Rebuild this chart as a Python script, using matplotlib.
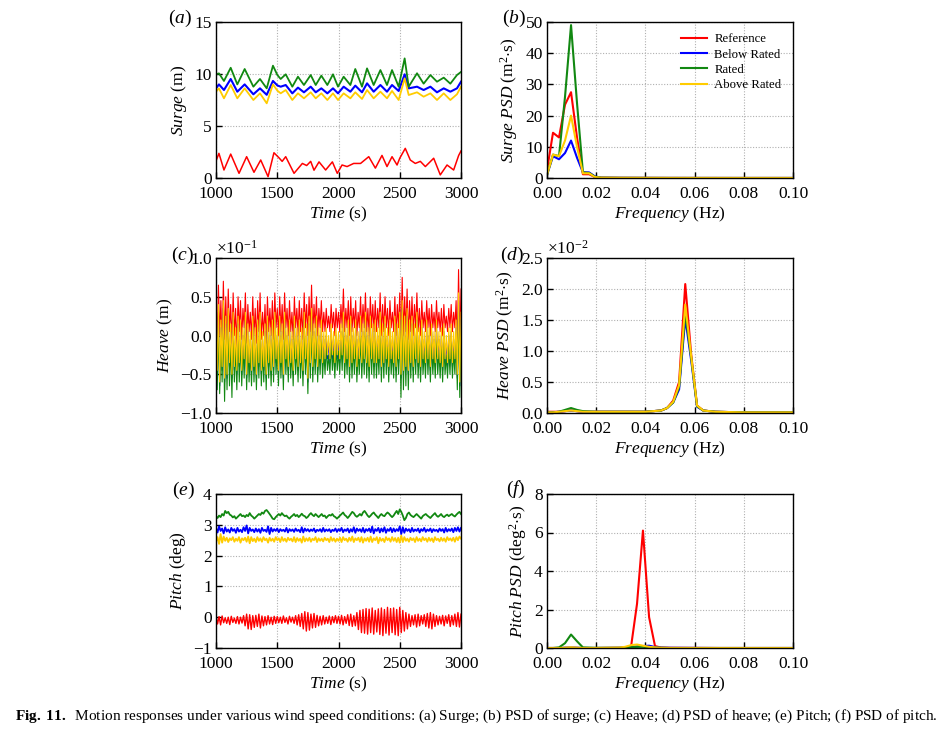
import numpy as np
import matplotlib
matplotlib.use("Agg")
import matplotlib.pyplot as plt
from matplotlib.ticker import FuncFormatter, FixedLocator

plt.rcParams['font.family'] = ['Liberation Serif', 'DejaVu Serif']
plt.rcParams['mathtext.fontset'] = 'custom'
plt.rcParams['mathtext.rm'] = 'Liberation Serif'
plt.rcParams['mathtext.it'] = 'Liberation Serif:italic'
plt.rcParams['mathtext.bf'] = 'Liberation Serif:bold'

series_names = ["Reference", "Below Rated", "Rated", "Above Rated"]
series_colors = ["#ff0000", "#0000ff", "#118811", "#ffcc00"]

# ---------------- (a) Surge time series ----------------
surge_t_ref = [1000, 1024, 1065, 1120, 1188, 1250, 1310, 1365, 1425, 1473, 1515, 1540, 1569,
               1637, 1705, 1740, 1773, 1800, 1841, 1895, 1950, 1990, 2029, 2070, 2124, 2180,
               2247, 2301, 2355, 2396, 2437, 2478, 2500, 2545, 2586, 2627, 2668, 2709, 2777,
               2831, 2886, 2940, 2981, 3000]
surge_ref = [1.63, 2.37, 0.77, 2.3, 0.45, 2.05, 0.55, 1.73, 0.13, 2.43, 1.93, 1.6, 2.05,
             0.45, 1.4, 1.2, 1.6, 0.75, 1.55, 0.77, 1.55, 0.45, 1.25, 1.1, 1.4, 1.4,
             2.05, 0.95, 2.17, 1.1, 2.05, 1.25, 1.9, 2.85, 1.73, 1.4, 1.6, 1.1, 1.9,
             0.3, 1.25, 0.77, 2.17, 2.6]

surge_t = [1000, 1024, 1065, 1120, 1174, 1234, 1305, 1359, 1414, 1465, 1501, 1528, 1569,
           1623, 1669, 1718, 1773, 1814, 1860, 1909, 1955, 1996, 2042, 2097, 2137, 2192,
           2233, 2287, 2342, 2396, 2437, 2491, 2540, 2573, 2641, 2695, 2750, 2804, 2859,
           2913, 2967, 3000]
surge_below = [8.62, 9.0, 8.46, 9.52, 8.3, 9.0, 8.05, 8.62, 8.0, 9.33, 8.9, 8.78, 8.94,
               8.14, 8.69, 8.24, 8.78, 8.24, 8.62, 8.14, 8.62, 8.14, 8.78, 8.3, 8.88, 8.24,
               9.1, 8.3, 8.94, 8.3, 8.94, 8.37, 9.97, 8.62, 8.78, 8.46, 8.78, 8.24, 8.62,
               8.3, 8.62, 9.26]
surge_rated = [9.97, 10.06, 9.33, 10.6, 9.0, 10.48, 8.78, 9.52, 8.62, 10.8, 9.9, 9.52, 9.97,
               8.78, 9.74, 8.94, 9.9, 8.94, 9.84, 8.94, 9.97, 8.78, 9.74, 8.94, 10.48, 8.78,
               10.54, 8.94, 10.38, 8.94, 10.38, 8.78, 11.5, 8.78, 10.07, 9.07, 9.9, 9.26, 9.65,
               9.07, 9.9, 10.2]
surge_above = [8.3, 8.62, 7.66, 8.94, 7.66, 8.62, 7.5, 8.14, 7.18, 9.0, 8.4, 8.14, 8.46,
               7.5, 8.14, 7.66, 8.24, 7.66, 8.14, 7.5, 8.14, 7.5, 8.14, 7.66, 8.24, 7.6,
               8.46, 7.66, 8.3, 7.66, 8.37, 7.5, 9.58, 7.98, 8.24, 7.82, 8.14, 7.5, 8.14,
               7.5, 8.05, 8.78]

# ---------------- (b) Surge PSD ----------------
surge_f = [0.0, 0.00244, 0.00488, 0.00732, 0.00977, 0.0122, 0.0146, 0.0171, 0.0195, 0.022,
           0.03, 0.05, 0.075, 0.1]
surge_psd_ref = [2.5, 14.5, 13.0, 23.5, 27.5, 13.0, 1.2, 1.2, 0.3, 0.1, 0.05, 0.02, 0.01, 0.01]
surge_psd_below = [1.0, 7.0, 6.0, 8.0, 12.0, 6.5, 1.8, 1.8, 0.5, 0.1, 0.05, 0.02, 0.01, 0.01]
surge_psd_rated = [1.0, 7.5, 7.0, 26.0, 49.0, 24.0, 1.8, 1.6, 0.4, 0.1, 0.05, 0.02, 0.01, 0.01]
surge_psd_above = [1.0, 7.5, 7.0, 12.0, 20.0, 10.0, 1.5, 1.5, 0.3, 0.1, 0.05, 0.02, 0.01, 0.01]

# ---------------- (c) Heave time series (x 10^-1 m), every 10 s from 1000 s ----------------
heave_ref = [
    0.55, -0.1, 0.65, 0.0, 0.45, -0.2, 0.7, -0.05, 0.5, -0.15,
    0.6, 0.05, 0.4, -0.1, 0.55, 0.0, 0.35, -0.15, 0.5, 0.05,
    0.45, -0.05, 0.35, 0.1, 0.55, -0.1, 0.4, 0.05, 0.3, -0.05,
    0.5, 0.0, 0.35, -0.1, 0.45, 0.05, 0.55, -0.05, 0.3, 0.0,
    0.4, -0.1, 0.5, 0.05, 0.35, 0.0, 0.45, -0.05, 0.55, 0.1,
    0.35, 0.0, 0.5, 0.05, 0.4, -0.05, 0.55, 0.1, 0.35, 0.0,
    0.45, 0.05, 0.3, -0.05, 0.5, 0.1, 0.35, 0.0, 0.45, 0.05,
    0.35, -0.05, 0.55, 0.1, 0.4, 0.0, 0.5, 0.05, 0.65, 0.0,
    0.4, 0.1, 0.5, 0.0, 0.35, 0.1, 0.45, 0.05, 0.3, 0.05,
    0.35, 0.1, 0.25, 0.05, 0.4, 0.1, 0.3, 0.0, 0.35, 0.1,
    0.3, 0.05, 0.4, 0.1, 0.6, 0.05, 0.35, 0.1, 0.45, 0.0,
    0.5, 0.05, 0.35, 0.1, 0.45, 0.0, 0.3, 0.1, 0.5, 0.05,
    0.4, 0.1, 0.55, 0.05, 0.35, 0.0, 0.5, 0.1, 0.4, 0.05,
    0.45, 0.05, 0.35, 0.1, 0.55, 0.0, 0.4, 0.05, 0.5, 0.1,
    0.35, 0.0, 0.45, 0.1, 0.3, 0.05, 0.5, 0.0, 0.4, 0.1,
    0.55, -0.05, 0.75, 0.0, 0.5, 0.05, 0.6, -0.05, 0.45, 0.05,
    0.5, 0.0, 0.4, 0.1, 0.55, 0.05, 0.35, 0.0, 0.45, 0.1,
    0.3, 0.05, 0.45, 0.1, 0.35, 0.0, 0.4, 0.1, 0.3, 0.05,
    0.45, 0.1, 0.3, 0.05, 0.35, 0.0, 0.4, 0.1, 0.25, 0.05,
    0.35, 0.1, 0.4, 0.05, 0.3, 0.1, 0.45, -0.2, 0.85, -0.1,
    0.6]
heave_below = [
    0.2, -0.5, 0.3, -0.65, 0.1, -0.45, 0.35, -0.6, 0.15, -0.55,
    0.25, -0.4, 0.05, -0.55, 0.2, -0.45, 0.0, -0.5, 0.15, -0.4,
    0.1, -0.5, 0.0, -0.35, 0.2, -0.55, 0.05, -0.4, -0.05, -0.5,
    0.15, -0.45, 0.0, -0.55, 0.1, -0.4, 0.2, -0.5, -0.05, -0.45,
    0.05, -0.55, 0.15, -0.4, 0.0, -0.5, 0.1, -0.45, 0.2, -0.35,
    0.0, -0.5, 0.15, -0.4, 0.05, -0.55, 0.2, -0.35, 0.0, -0.45,
    0.1, -0.4, -0.05, -0.5, 0.15, -0.35, 0.0, -0.45, 0.1, -0.4,
    0.0, -0.5, 0.2, -0.35, 0.05, -0.6, 0.15, -0.4, 0.25, -0.45,
    0.05, -0.35, 0.15, -0.45, 0.0, -0.35, 0.1, -0.4, -0.05, -0.35,
    0.0, -0.3, -0.1, -0.35, 0.05, -0.3, -0.05, -0.4, 0.0, -0.3,
    -0.05, -0.35, 0.05, -0.3, 0.2, -0.4, 0.0, -0.35, 0.1, -0.45,
    0.15, -0.4, 0.0, -0.35, 0.1, -0.45, -0.05, -0.35, 0.15, -0.4,
    0.05, -0.35, 0.2, -0.4, 0.0, -0.45, 0.15, -0.35, 0.05, -0.4,
    0.1, -0.4, 0.0, -0.35, 0.2, -0.45, 0.05, -0.4, 0.15, -0.35,
    0.0, -0.45, 0.1, -0.35, -0.05, -0.4, 0.15, -0.45, 0.05, -0.35,
    0.2, -0.55, 0.35, -0.5, 0.15, -0.45, 0.25, -0.5, 0.1, -0.4,
    0.15, -0.45, 0.05, -0.35, 0.2, -0.4, 0.0, -0.45, 0.1, -0.35,
    -0.05, -0.4, 0.1, -0.35, 0.0, -0.45, 0.05, -0.35, -0.05, -0.4,
    0.1, -0.35, -0.05, -0.4, 0.0, -0.45, 0.05, -0.35, -0.1, -0.4,
    0.0, -0.35, 0.05, -0.4, -0.05, -0.35, 0.1, -0.55, 0.45, -0.65,
    0.2]
heave_rated = [
    0.05, -0.7, 0.1, -0.75, -0.05, -0.6, 0.15, -0.85, 0.0, -0.7,
    0.1, -0.65, -0.1, -0.8, 0.05, -0.6, -0.15, -0.7, 0.0, -0.6,
    -0.05, -0.65, -0.15, -0.55, 0.05, -0.7, -0.1, -0.6, -0.2, -0.65,
    0.0, -0.6, -0.15, -0.7, -0.05, -0.55, 0.05, -0.65, -0.2, -0.6,
    -0.1, -0.7, 0.0, -0.55, -0.15, -0.65, -0.05, -0.6, 0.05, -0.5,
    -0.15, -0.65, 0.0, -0.55, -0.1, -0.7, 0.05, -0.5, -0.15, -0.6,
    -0.05, -0.55, -0.2, -0.65, 0.0, -0.5, -0.15, -0.6, -0.05, -0.55,
    -0.15, -0.65, 0.05, -0.5, -0.1, -0.75, 0.0, -0.55, 0.1, -0.6,
    -0.1, -0.5, 0.0, -0.6, -0.15, -0.5, -0.05, -0.55, -0.2, -0.5,
    -0.15, -0.45, -0.25, -0.5, -0.1, -0.45, -0.2, -0.55, -0.15, -0.45,
    -0.2, -0.5, -0.1, -0.45, 0.05, -0.55, -0.15, -0.5, -0.05, -0.6,
    0.0, -0.55, -0.15, -0.5, -0.05, -0.6, -0.2, -0.5, 0.0, -0.55,
    -0.1, -0.5, 0.05, -0.55, -0.15, -0.6, 0.0, -0.5, -0.1, -0.55,
    -0.05, -0.55, -0.15, -0.5, 0.05, -0.6, -0.1, -0.55, 0.0, -0.5,
    -0.15, -0.6, -0.05, -0.5, -0.2, -0.55, 0.0, -0.6, -0.1, -0.5,
    0.05, -0.8, 0.2, -0.7, 0.0, -0.65, 0.1, -0.7, -0.05, -0.55,
    0.0, -0.6, -0.1, -0.5, 0.05, -0.55, -0.15, -0.6, -0.05, -0.5,
    -0.2, -0.55, -0.05, -0.5, -0.15, -0.6, -0.1, -0.5, -0.2, -0.55,
    -0.05, -0.5, -0.2, -0.55, -0.15, -0.6, -0.1, -0.5, -0.25, -0.55,
    -0.15, -0.5, -0.1, -0.55, -0.2, -0.5, -0.05, -0.7, 0.3, -0.8,
    0.0]
heave_above = [
    0.3, -0.45, 0.4, -0.6, 0.2, -0.4, 0.45, -0.55, 0.25, -0.5,
    0.35, -0.35, 0.15, -0.5, 0.3, -0.4, 0.1, -0.45, 0.25, -0.35,
    0.2, -0.45, 0.1, -0.3, 0.3, -0.5, 0.15, -0.35, 0.05, -0.45,
    0.25, -0.4, 0.1, -0.5, 0.2, -0.35, 0.3, -0.45, 0.05, -0.4,
    0.15, -0.5, 0.25, -0.35, 0.1, -0.45, 0.2, -0.4, 0.3, -0.3,
    0.1, -0.45, 0.25, -0.35, 0.15, -0.5, 0.3, -0.3, 0.1, -0.4,
    0.2, -0.35, 0.05, -0.45, 0.25, -0.3, 0.1, -0.4, 0.2, -0.35,
    0.1, -0.45, 0.3, -0.3, 0.15, -0.55, 0.25, -0.35, 0.35, -0.4,
    0.15, -0.3, 0.25, -0.4, 0.1, -0.3, 0.2, -0.35, 0.05, -0.3,
    0.1, -0.25, 0.0, -0.3, 0.15, -0.25, 0.05, -0.35, 0.1, -0.25,
    0.05, -0.3, 0.15, -0.25, 0.3, -0.35, 0.1, -0.3, 0.2, -0.4,
    0.25, -0.35, 0.1, -0.3, 0.2, -0.4, 0.05, -0.3, 0.25, -0.35,
    0.15, -0.3, 0.3, -0.35, 0.1, -0.4, 0.25, -0.3, 0.15, -0.35,
    0.2, -0.35, 0.1, -0.3, 0.3, -0.4, 0.15, -0.35, 0.25, -0.3,
    0.1, -0.4, 0.2, -0.3, 0.05, -0.35, 0.25, -0.4, 0.15, -0.3,
    0.3, -0.5, 0.45, -0.45, 0.25, -0.4, 0.35, -0.45, 0.2, -0.35,
    0.25, -0.4, 0.15, -0.3, 0.3, -0.35, 0.1, -0.4, 0.2, -0.3,
    0.05, -0.35, 0.2, -0.3, 0.1, -0.4, 0.15, -0.3, 0.05, -0.35,
    0.2, -0.3, 0.05, -0.35, 0.1, -0.4, 0.15, -0.3, 0.0, -0.35,
    0.1, -0.3, 0.15, -0.35, 0.05, -0.3, 0.2, -0.5, 0.55, -0.6,
    0.3]

# ---------------- (d) Heave PSD (x 10^-2) ----------------
heave_f = [0.0, 0.00244, 0.00488, 0.00732, 0.00977, 0.0122, 0.0146, 0.0195, 0.03, 0.04,
           0.0464, 0.0488, 0.0513, 0.0537, 0.0562, 0.0586, 0.061, 0.0635, 0.0684, 0.08, 0.1]
heave_psd_ref = [0.02, 0.02, 0.02, 0.03, 0.04, 0.03, 0.02, 0.02, 0.02, 0.02, 0.04, 0.08,
                 0.2, 0.5, 2.08, 0.95, 0.12, 0.04, 0.02, 0.01, 0.01]
heave_psd_below = [0.01, 0.01, 0.02, 0.03, 0.04, 0.03, 0.02, 0.02, 0.02, 0.02, 0.04, 0.08,
                   0.17, 0.38, 1.53, 0.85, 0.1, 0.04, 0.02, 0.01, 0.01]
heave_psd_rated = [0.01, 0.01, 0.02, 0.05, 0.08, 0.05, 0.03, 0.02, 0.02, 0.02, 0.04, 0.08,
                   0.17, 0.42, 1.62, 0.9, 0.11, 0.04, 0.02, 0.01, 0.01]
heave_psd_above = [0.01, 0.01, 0.02, 0.03, 0.04, 0.03, 0.02, 0.02, 0.02, 0.02, 0.04, 0.08,
                   0.18, 0.45, 1.75, 0.92, 0.12, 0.04, 0.02, 0.01, 0.01]

# ---------------- (e) Pitch time series, every 12.5 s from 1000 s ----------------
pitch_ref = [
    0.05, -0.22, 0.02, -0.25, 0.04, -0.18, -0.02, -0.2, 0.0, -0.24, 0.03, -0.17, -0.03, -0.2, 0.02, -0.22, 0.0, -0.19, 0.05, -0.28,
    0.1, -0.38, 0.08, -0.4, 0.05, -0.33, 0.06, -0.3, 0.1, -0.35, 0.04, -0.28, 0.02, -0.25, 0.05, -0.22, 0.0, -0.24, 0.03, -0.2,
    0.02, -0.18, 0.0, -0.2, 0.04, -0.17, -0.02, -0.22, 0.03, -0.16, 0.0, -0.2, 0.05, -0.25, 0.08, -0.3, 0.12, -0.38, 0.18, -0.45,
    0.15, -0.42, 0.1, -0.35, 0.12, -0.33, 0.06, -0.28, 0.03, -0.25, 0.05, -0.22, 0.0, -0.2, 0.04, -0.24, 0.02, -0.18, 0.05, -0.2,
    0.03, -0.22, 0.06, -0.25, 0.02, -0.2, 0.08, -0.27, 0.1, -0.3, 0.05, -0.28, 0.15, -0.4, 0.22, -0.5, 0.25, -0.52, 0.28, -0.55,
    0.26, -0.5, 0.3, -0.55, 0.22, -0.48, 0.27, -0.56, 0.3, -0.6, 0.25, -0.52, 0.32, -0.58, 0.28, -0.5, 0.3, -0.57, 0.25, -0.6,
    0.32, -0.5, 0.22, -0.45, 0.15, -0.38, 0.1, -0.3, 0.05, -0.25, 0.08, -0.32, 0.1, -0.28, 0.05, -0.22, 0.08, -0.3, 0.12, -0.35,
    0.15, -0.38, 0.1, -0.3, 0.05, -0.25, 0.03, -0.22, 0.06, -0.28, 0.04, -0.2, 0.08, -0.3, 0.05, -0.25, 0.1, -0.3, 0.15, -0.32, 0.1]
pitch_below = [
    2.9, 2.75, 2.95, 2.8, 2.88, 2.72, 2.92, 2.78, 2.85, 2.75, 2.9, 2.8, 2.86, 2.74, 2.9, 2.78, 2.84, 2.76, 2.92, 2.8,
    2.98, 2.72, 2.9, 2.8, 2.85, 2.76, 2.88, 2.78, 2.86, 2.74, 2.9, 2.8, 2.84, 2.77, 2.95, 2.7, 2.9, 2.78, 2.86, 2.8,
    2.88, 2.76, 2.86, 2.8, 2.84, 2.78, 2.9, 2.75, 2.86, 2.8, 2.85, 2.77, 2.88, 2.8, 2.84, 2.76, 2.92, 2.75, 2.88, 2.8,
    2.86, 2.78, 2.85, 2.8, 2.88, 2.76, 2.84, 2.8, 2.86, 2.77, 2.9, 2.78, 2.85, 2.8, 2.86, 2.76, 2.84, 2.8, 2.88, 2.77,
    2.86, 2.8, 2.9, 2.76, 2.85, 2.8, 2.88, 2.75, 2.86, 2.78, 2.92, 2.74, 2.88, 2.8, 2.86, 2.77, 2.9, 2.75, 2.86, 2.8,
    2.88, 2.76, 2.94, 2.72, 2.86, 2.8, 2.9, 2.75, 2.88, 2.78, 2.92, 2.74, 2.86, 2.8, 2.9, 2.76, 2.88, 2.78, 2.86, 2.8,
    2.95, 2.7, 2.92, 2.74, 2.88, 2.8, 2.86, 2.76, 2.9, 2.78, 2.85, 2.8, 2.88, 2.75, 2.86, 2.8, 2.9, 2.77, 2.85, 2.8,
    2.88, 2.76, 2.86, 2.8, 2.84, 2.77, 2.88, 2.8, 2.86, 2.75, 2.9, 2.78, 2.86, 2.8, 2.88, 2.76, 2.9, 2.8, 2.92, 2.78, 2.9]
pitch_rated = [
    3.28, 3.22, 3.3, 3.25, 3.35, 3.3, 3.45, 3.38, 3.42, 3.33, 3.3, 3.24, 3.28, 3.2, 3.25, 3.3, 3.35, 3.28, 3.3, 3.25,
    3.32, 3.28, 3.38, 3.3, 3.26, 3.2, 3.25, 3.3, 3.35, 3.32, 3.4, 3.36, 3.45, 3.48, 3.42, 3.35, 3.28, 3.2, 3.18, 3.25,
    3.3, 3.35, 3.3, 3.38, 3.32, 3.28, 3.3, 3.24, 3.2, 3.26, 3.3, 3.35, 3.28, 3.32, 3.25, 3.3, 3.36, 3.3, 3.28, 3.22,
    3.26, 3.33, 3.38, 3.32, 3.28, 3.35, 3.3, 3.25, 3.3, 3.35, 3.28, 3.3, 3.22, 3.28, 3.32, 3.3, 3.35, 3.28, 3.25, 3.2,
    3.25, 3.3, 3.35, 3.4, 3.32, 3.28, 3.22, 3.28, 3.35, 3.42, 3.38, 3.3, 3.26, 3.3, 3.35, 3.3, 3.4, 3.45, 3.38, 3.3,
    3.25, 3.3, 3.36, 3.4, 3.33, 3.28, 3.22, 3.3, 3.35, 3.3, 3.28, 3.35, 3.4, 3.36, 3.3, 3.25, 3.3, 3.38, 3.45, 3.35,
    3.5, 3.42, 3.3, 3.15, 3.22, 3.35, 3.4, 3.32, 3.28, 3.25, 3.3, 3.35, 3.3, 3.25, 3.2, 3.28, 3.32, 3.35, 3.3, 3.26,
    3.22, 3.28, 3.33, 3.38, 3.3, 3.26, 3.3, 3.35, 3.28, 3.25, 3.3, 3.33, 3.28, 3.32, 3.35, 3.3, 3.27, 3.33, 3.38, 3.42, 3.35]
pitch_above = [
    2.45, 2.6, 2.38, 2.7, 2.42, 2.62, 2.48, 2.58, 2.44, 2.56, 2.5, 2.6, 2.45, 2.55, 2.48, 2.6, 2.42, 2.56, 2.5, 2.58,
    2.45, 2.62, 2.4, 2.6, 2.47, 2.55, 2.44, 2.6, 2.48, 2.56, 2.45, 2.6, 2.5, 2.55, 2.42, 2.58, 2.48, 2.55, 2.45, 2.6,
    2.5, 2.56, 2.44, 2.6, 2.48, 2.55, 2.45, 2.58, 2.5, 2.55, 2.46, 2.6, 2.44, 2.57, 2.48, 2.55, 2.42, 2.62, 2.46, 2.56,
    2.48, 2.58, 2.45, 2.55, 2.5, 2.6, 2.44, 2.56, 2.48, 2.55, 2.46, 2.58, 2.5, 2.55, 2.44, 2.6, 2.48, 2.56, 2.45, 2.55,
    2.48, 2.58, 2.44, 2.6, 2.5, 2.55, 2.45, 2.58, 2.48, 2.62, 2.44, 2.56, 2.5, 2.58, 2.45, 2.6, 2.42, 2.56, 2.48, 2.58,
    2.45, 2.62, 2.44, 2.56, 2.5, 2.6, 2.4, 2.58, 2.48, 2.55, 2.44, 2.6, 2.5, 2.56, 2.45, 2.6, 2.48, 2.57, 2.44, 2.58,
    2.42, 2.65, 2.44, 2.6, 2.48, 2.55, 2.45, 2.58, 2.5, 2.56, 2.44, 2.6, 2.48, 2.55, 2.46, 2.6, 2.5, 2.56, 2.45, 2.58,
    2.48, 2.56, 2.44, 2.6, 2.5, 2.55, 2.46, 2.58, 2.48, 2.56, 2.45, 2.6, 2.5, 2.56, 2.48, 2.58, 2.45, 2.6, 2.5, 2.62, 2.55]

# ---------------- (f) Pitch PSD ----------------
pitch_f = [0.0, 0.00244, 0.00488, 0.00732, 0.00977, 0.0122, 0.0146, 0.0195, 0.0293, 0.0317,
           0.0342, 0.0366, 0.039, 0.0415, 0.0439, 0.0464, 0.05, 0.07, 0.1]
pitch_psd_ref = [0.0, 0.0, 0.0, 0.0, 0.01, 0.0, 0.0, 0.0, 0.01, 0.02, 0.1, 2.3, 6.1, 1.6, 0.1, 0.02, 0.01, 0.0, 0.0]
pitch_psd_below = [0.0, 0.0, 0.0, 0.02, 0.03, 0.02, 0.0, 0.0, 0.01, 0.02, 0.05, 0.08, 0.1, 0.12, 0.05, 0.02, 0.01, 0.0, 0.0]
pitch_psd_rated = [0.0, 0.0, 0.03, 0.25, 0.7, 0.35, 0.03, 0.01, 0.01, 0.02, 0.04, 0.06, 0.06, 0.04, 0.02, 0.01, 0.0, 0.0, 0.0]
pitch_psd_above = [0.0, 0.0, 0.0, 0.02, 0.04, 0.02, 0.0, 0.0, 0.02, 0.06, 0.15, 0.18, 0.12, 0.06, 0.03, 0.01, 0.0, 0.0, 0.0]

heave_t = np.linspace(1000, 3000, len(heave_ref))
pitch_t = np.linspace(1000, 3000, len(pitch_ref))

# ---------------- figure ----------------
W, H = 946, 731
fig = plt.figure(figsize=(W / 100, H / 100), dpi=100)

def px_axes(left, top, right, bottom):
    return fig.add_axes([left / W, 1 - bottom / H, (right - left) / W, (bottom - top) / H])

FS = 12.5

def fmt(spec):
    return FuncFormatter(lambda v, p: (spec % v).replace('-', '\u2212'))

def style(ax, xlim, ylim, xticks, yticks, xfmt, yfmt):
    ax.set_xlim(*xlim)
    ax.set_ylim(*ylim)
    ax.xaxis.set_major_locator(FixedLocator(xticks))
    ax.yaxis.set_major_locator(FixedLocator(yticks))
    ax.xaxis.set_major_formatter(fmt(xfmt))
    ax.yaxis.set_major_formatter(fmt(yfmt))
    ax.grid(True, linestyle=(0, (1, 1.5)), color='#b0b0b0', linewidth=0.8)
    ax.tick_params(direction='in', length=4, width=1.0, labelsize=FS)
    ax.tick_params(axis='x', pad=5.5)
    ax.tick_params(axis='y', pad=3)
    for s in ax.spines.values():
        s.set_linewidth(1.0)
    ax.set_axisbelow(True)

ax_a = px_axes(216, 22, 461, 178)
ax_b = px_axes(547, 22, 793, 178)
ax_c = px_axes(216, 258, 461, 413)
ax_d = px_axes(547, 258, 793, 413)
ax_e = px_axes(216, 494, 461, 648)
ax_f = px_axes(547, 494, 793, 648)

tx = [1000, 1500, 2000, 2500, 3000]
fx = [0.0, 0.02, 0.04, 0.06, 0.08, 0.10]

# (a)
lw_s = 1.1
ax_a.plot(surge_t_ref, surge_ref, color=series_colors[0], lw=lw_s)
ax_a.plot(surge_t, surge_below, color=series_colors[1], lw=lw_s + 0.4)
ax_a.plot(surge_t, surge_rated, color=series_colors[2], lw=lw_s + 0.2)
ax_a.plot(surge_t, surge_above, color=series_colors[3], lw=lw_s + 0.2)
style(ax_a, (1000, 3000), (0, 15), tx, [0, 5, 10, 15], '%d', '%d')
ax_a.set_ylabel(r'$\it{Surge}$ (m)', fontsize=FS, labelpad=4)
ax_a.set_xlabel(r'$\it{Time}$ (s)', fontsize=FS, labelpad=2)

# (b)
lw_p = 1.5
for vals, c, n in zip([surge_psd_ref, surge_psd_below, surge_psd_rated, surge_psd_above],
                      series_colors, series_names):
    ax_b.plot(surge_f, vals, color=c, lw=lw_p, label=n)
style(ax_b, (0, 0.1), (0, 50), fx, [0, 10, 20, 30, 40, 50], '%.2f', '%d')
ax_b.set_ylabel(r'$\it{Surge\ PSD}$ (m$^{2}$$\cdot$s)', fontsize=FS, labelpad=4)
ax_b.set_xlabel(r'$\it{Frequency}$ (Hz)', fontsize=FS, labelpad=2)
ax_b.legend(loc='upper right', frameon=False, fontsize=9.2, handlelength=2.0,
            handletextpad=0.6, labelspacing=0.25, bbox_to_anchor=(1.0, 1.0))

# (c)
lw_h = 0.8
ax_c.plot(heave_t, heave_ref, color=series_colors[0], lw=lw_h)
ax_c.plot(heave_t, heave_below, color=series_colors[1], lw=lw_h)
ax_c.plot(heave_t, heave_rated, color=series_colors[2], lw=lw_h)
ax_c.plot(heave_t, heave_above, color=series_colors[3], lw=lw_h)
style(ax_c, (1000, 3000), (-1.0, 1.0), tx, [-1.0, -0.5, 0.0, 0.5, 1.0], '%d', '%.1f')
ax_c.set_ylabel(r'$\it{Heave}$ (m)', fontsize=FS, labelpad=4)
ax_c.set_xlabel(r'$\it{Time}$ (s)', fontsize=FS, labelpad=2)
ax_c.text(0.0, 1.0, r'$\times$10$^{-1}$', transform=ax_c.transAxes, fontsize=FS,
          ha='left', va='bottom')

# (d)
for vals, c in zip([heave_psd_ref, heave_psd_below, heave_psd_rated, heave_psd_above], series_colors):
    ax_d.plot(heave_f, vals, color=c, lw=lw_p)
style(ax_d, (0, 0.1), (0, 2.5), fx, [0.0, 0.5, 1.0, 1.5, 2.0, 2.5], '%.2f', '%.1f')
ax_d.set_ylabel(r'$\it{Heave\ PSD}$ (m$^{2}$$\cdot$s)', fontsize=FS, labelpad=4)
ax_d.set_xlabel(r'$\it{Frequency}$ (Hz)', fontsize=FS, labelpad=2)
ax_d.text(0.0, 1.0, r'$\times$10$^{-2}$', transform=ax_d.transAxes, fontsize=FS,
          ha='left', va='bottom')

# (e)
lw_e = 1.0
ax_e.plot(pitch_t, pitch_ref, color=series_colors[0], lw=lw_e)
ax_e.plot(pitch_t, pitch_below, color=series_colors[1], lw=lw_e + 0.3)
ax_e.plot(pitch_t, pitch_rated, color=series_colors[2], lw=lw_e + 0.3)
ax_e.plot(pitch_t, pitch_above, color=series_colors[3], lw=lw_e + 0.3)
style(ax_e, (1000, 3000), (-1, 4), tx, [-1, 0, 1, 2, 3, 4], '%d', '%d')
ax_e.set_ylabel(r'$\it{Pitch}$ (deg)', fontsize=FS, labelpad=4)
ax_e.set_xlabel(r'$\it{Time}$ (s)', fontsize=FS, labelpad=2)

# (f)
for vals, c in zip([pitch_psd_ref, pitch_psd_below, pitch_psd_rated, pitch_psd_above], series_colors):
    ax_f.plot(pitch_f, vals, color=c, lw=lw_p)
style(ax_f, (0, 0.1), (0, 8), fx, [0, 2, 4, 6, 8], '%.2f', '%d')
ax_f.set_ylabel(r'$\it{Pitch\ PSD}$ (deg$^{2}$$\cdot$s)', fontsize=FS, labelpad=4)
ax_f.set_xlabel(r'$\it{Frequency}$ (Hz)', fontsize=FS, labelpad=2)

# panel labels (left edge, vertical centre in pixels)
for lab, x, y in [('a', 168, 18), ('b', 502, 18), ('c', 171, 255),
                  ('d', 500, 255), ('e', 172, 490), ('f', 506, 489)]:
    fig.text(x / W, 1 - y / H, '(' + r'$\it{' + lab + '}$' + ')',
             fontsize=FS + 1.5, ha='left', va='center')

fig.text(15 / W, 1 - 716 / H, r'$\bf{Fig.\ 11.}$  Motion responses under various wind speed conditions: '
         '(a) Surge; (b) PSD of surge; (c) Heave; (d) PSD of heave; (e) Pitch; (f) PSD of pitch.',
         fontsize=11.0, ha='left', va='center')

fig.savefig('out.png', dpi=100)
